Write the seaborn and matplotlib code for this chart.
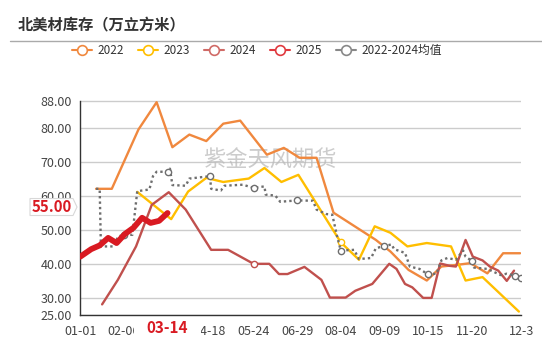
import matplotlib
matplotlib.use("Agg")
import matplotlib.pyplot as plt
from matplotlib.lines import Line2D
from matplotlib.patches import Polygon, Rectangle
from matplotlib.transforms import blended_transform_factory, IdentityTransform
import seaborn as sns
import pandas as pd

# ---- data -----------------------------------------------------------------
dates_2022 = ["01-14", "01-27", "02-18", "03-05", "03-18", "04-01", "04-15", "04-29",
              "05-13", "06-04", "06-18", "07-01", "07-15", "07-29", "09-02", "09-14",
              "09-29", "10-14", "10-26", "11-08", "11-19", "12-03", "12-16", "12-30"]
vals_2022 = [62.1, 62.1, 79.5, 87.5, 74.3, 78.0, 76.1, 81.2,
             82.1, 72.1, 74.1, 71.2, 71.2, 55.1, 47.1, 43.7,
             38.3, 35.2, 39.3, 39.8, 40.3, 37.3, 43.2, 43.2]

dates_2023 = ["02-17", "03-17", "03-31", "04-15", "04-29", "05-20", "06-02", "06-16",
              "06-30", "08-04", "08-19", "09-01", "09-14", "09-28", "10-14", "11-03",
              "11-15", "11-29", "12-29"]
vals_2023 = [61.2, 53.2, 61.3, 65.3, 64.1, 65.1, 68.2, 64.1,
             66.2, 46.4, 41.3, 51.1, 49.2, 45.2, 46.2, 45.2,
             35.2, 36.2, 26.1]

dates_2024 = ["01-19", "02-01", "02-16", "03-01", "03-15", "03-29", "04-19", "05-03",
              "05-24", "06-06", "06-14", "06-21", "07-05", "07-19", "07-26", "08-08",
              "08-16", "08-30", "09-13", "09-19", "09-26", "10-02", "10-11", "10-18",
              "10-25", "11-02", "11-07", "11-15", "11-21", "11-29", "12-05", "12-12",
              "12-19", "12-25"]
vals_2024 = [28.2, 35.4, 45.2, 57.4, 61.1, 56.0, 44.2, 44.2,
             40.1, 40.1, 37.1, 37.1, 39.2, 35.4, 30.2, 30.2,
             32.2, 34.2, 40.1, 38.6, 34.2, 33.2, 30.1, 30.1,
             40.2, 39.5, 39.3, 47.1, 42.2, 41.1, 39.3, 38.1,
             35.1, 38.1]

dates_2025 = ["01-01", "01-10", "01-17", "01-24", "01-31", "02-07", "02-14", "02-21",
              "02-28", "03-07", "03-14"]
vals_2025 = [42.2, 44.4, 45.5, 47.7, 46.2, 48.9, 50.7, 53.6, 52.1, 52.7, 55.0]

dates_avg = ["01-14", "01-17", "01-18", "01-29", "02-01", "02-06", "02-13", "02-17",
             "02-27", "03-02", "03-05", "03-14", "03-16", "03-18", "03-29", "04-01",
             "04-18", "04-19", "04-27", "04-30", "05-15", "05-24", "06-02", "06-03",
             "06-11", "06-15", "06-29", "07-12", "07-15", "07-23", "07-28", "08-01",
             "08-04", "08-15", "08-19", "08-29", "09-02", "09-09", "09-15", "09-17",
             "09-26", "09-30", "10-08", "10-15", "10-22", "10-26", "10-31", "11-07",
             "11-13", "11-15", "11-20", "11-22", "12-03", "12-14", "12-19", "12-26",
             "12-31"]
vals_avg = [62.1, 62.1, 45.2, 45.2, 48.1, 48.6, 48.6, 61.4,
            61.9, 65.8, 67.1, 67.1, 68.0, 63.2, 63.0, 65.1,
            65.8, 62.1, 61.6, 63.0, 63.3, 62.4, 62.8, 60.4,
            60.1, 58.3, 58.7, 58.6, 56.0, 54.7, 54.5, 48.1,
            44.0, 44.2, 41.5, 41.8, 44.7, 45.3, 45.8, 44.4,
            43.3, 39.3, 38.6, 37.0, 37.2, 41.1, 41.8, 41.3,
            44.0, 42.2, 41.0, 39.0, 38.6, 36.8, 37.2, 36.6,
            35.9]

tick_dates = ["01-01", "02-06", "03-14", "04-18", "05-24", "06-29", "08-04",
              "09-09", "10-15", "11-20", "12-31"]
tick_labels = ["01-01", "02-06", "", "04-18", "05-24", "06-29", "08-04",
               "09-09", "10-15", "11-20", "12-3"]
symbol_dates = tick_dates + ["12-26"]
y_ticks = [25, 30, 40, 50, 60, 70, 80, 88]
current_date = "03-14"
current_value = 55.0

# ---- styling --------------------------------------------------------------
sns.set_style("white")
plt.rcParams["font.family"] = ["Noto Sans CJK SC", "DejaVu Sans"]

W, H = 542, 340
fig = plt.figure(figsize=(W / 100, H / 100), dpi=100)
x0, x1, y_top, y_bot = 80.3, 521.3, 100.5, 315.3
ax = fig.add_axes([x0 / W, 1 - y_bot / H, (x1 - x0) / W, (y_bot - y_top) / H])


def doy(s):
    return pd.Timestamp(f"2023-{s}").dayofyear - 1


def frame(dates, vals):
    return pd.DataFrame({"day": [doy(d) for d in dates], "value": vals})


symbol_days = {doy(d) for d in symbol_dates}

series = [
    ("2022", dates_2022, vals_2022, "#F0883E", "-", 1.7, 3),
    ("2023", dates_2023, vals_2023, "#FFBE00", "-", 1.7, 3),
    ("2024", dates_2024, vals_2024, "#C0504D", "-", 1.7, 3),
    ("2022-2024均值", dates_avg, vals_avg, "#6E6E6E", (0, (1, 1.3)), 1.7, 4),
    ("2025", dates_2025, vals_2025, "#D91A22", "-", 4.2, 5),
]

for name, d, v, color, ls, lw, z in series:
    df = frame(d, v)
    marks = [i for i, day in enumerate(df["day"]) if day in symbol_days]
    kw = {}
    if marks and name != "2025":
        kw = dict(marker="o", markevery=marks, markersize=4.5,
                  markerfacecolor="white", markeredgecolor=color, markeredgewidth=1.0)
    sns.lineplot(data=df, x="day", y="value", ax=ax, color=color, linewidth=lw,
                 linestyle=ls, sort=False, estimator=None, zorder=z, legend=False, **kw)

ax.set_xlim(0, 364)
ax.set_ylim(25, 88)
ax.set_xlabel("")
ax.set_ylabel("")

ax.set_yticks(y_ticks)
ax.set_yticklabels([f"{t:.2f}" for t in y_ticks])
ax.set_xticks([doy(d) for d in tick_dates])
ax.set_xticklabels(tick_labels)
ax.tick_params(axis="both", labelsize=9, colors="#333333", length=4, width=1,
               direction="out", pad=2)
ax.tick_params(axis="y", labelcolor="#444444")
ax.tick_params(axis="x", labelcolor="#444444", pad=3)
ax.grid(axis="y", color="#CCCCCC", linewidth=1)
ax.set_axisbelow(True)
for side in ("top", "right"):
    ax.spines[side].set_visible(False)
for side in ("left", "bottom"):
    ax.spines[side].set_color("#333333")
    ax.spines[side].set_linewidth(1)

# highlighted current date on the x axis, on a white plate over its neighbours
cur_day = doy(current_date)
plate_tf = blended_transform_factory(ax.transData, fig.transFigure)
fig.add_artist(Rectangle((cur_day - 28, 1 - 338 / H), 56, 17 / H, transform=plate_tf,
                         facecolor="white", edgecolor="none", zorder=9))
fig.text(cur_day, 1 - 328 / H, current_date, transform=plate_tf,
         ha="center", va="center", fontsize=11, fontweight="bold", color="#D91A22",
         zorder=10)

# current value tag on the y axis (box with a small pointer toward the axis)
fig.canvas.draw()
_, ty = ax.transData.transform((0, current_value))
ty += 6
left, right, tip, half = 30, 73, 77, 8.5
tag = Polygon([(left, ty - half), (right, ty - half), (tip, ty), (right, ty + half),
               (left, ty + half)], closed=True, transform=IdentityTransform(),
              facecolor="white", edgecolor="#D8D8D8", linewidth=0.8, zorder=9)
fig.add_artist(tag)
fig.text((left + right) / 2 / W + 0.5 / W, ty / H, f"{current_value:.2f}",
         ha="center", va="center", fontsize=10.8, fontweight="bold",
         color="#D91A22", zorder=10)

# watermark
ax.text(0.43, 0.72, "紫金天风期货", transform=ax.transAxes, ha="center", va="center",
        fontsize=16, color="#BBBBBB", alpha=0.75, zorder=1)

# title and separator
fig.text(18 / W, 1 - 25 / H, "北美材库存（万立方米）", ha="left", va="center",
         fontsize=11, fontweight="bold", color="#333333")
fig.add_artist(Line2D([10 / W, 1.0], [1 - 40.5 / H] * 2, color="#AAAAAA", linewidth=1,
                      transform=fig.transFigure))

# legend
legend_items = [("2022", "#F0883E"), ("2023", "#FFBE00"), ("2024", "#D06A66"),
                ("2025", "#E0393E"), ("2022-2024均值", "#888888")]
handles = [Line2D([0], [0], color=c, linewidth=1.5, marker="o", markersize=7,
                  markerfacecolor="white", markeredgecolor=c, markeredgewidth=1.2)
           for _, c in legend_items]
fig.legend(handles, [n for n, _ in legend_items], loc="center",
           bbox_to_anchor=(257 / W, 1 - 50.5 / H), ncol=5, frameon=False,
           fontsize=8.5, handlelength=1.7, handletextpad=0.45, columnspacing=1.2,
           labelcolor="#333333")

fig.savefig("out.png", dpi=100)
